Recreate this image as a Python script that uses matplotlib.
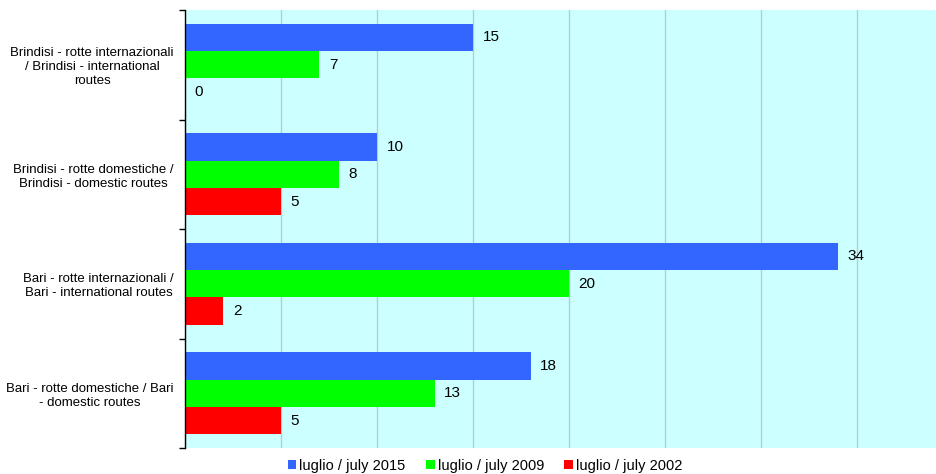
"""Rotte aeroportuali Bari / Brindisi: confronto luglio 2002, 2009, 2015"""
import matplotlib
matplotlib.use("Agg")
import matplotlib.pyplot as plt
import numpy as np

plt.rcParams["font.family"] = ["Liberation Sans", "DejaVu Sans"]

categories = [
    "Brindisi - rotte internazionali\n/ Brindisi - international\nroutes",
    "Brindisi - rotte domestiche /\nBrindisi - domestic routes",
    "Bari - rotte internazionali /\nBari - international routes",
    "Bari - rotte domestiche / Bari\n- domestic routes",
]
series_names = ["luglio / july 2015", "luglio / july 2009", "luglio / july 2002"]
july_2015 = [15, 10, 34, 18]
july_2009 = [7, 8, 20, 13]
july_2002 = [0, 5, 2, 5]
colors = ["#3366FF", "#00FF00", "#FF0000"]

fig = plt.figure(figsize=(9.36, 4.74), dpi=100)
# plot area runs past the right edge, as in the original
ax = fig.add_axes([185 / 936, 26 / 474, 768 / 936, 438 / 474])
ax.set_facecolor("#CCFFFF")

y = np.arange(len(categories))
h = 0.25
for i, (vals, col, name) in enumerate(zip([july_2015, july_2009, july_2002], colors, series_names)):
    pos = y - 0.5 + 0.125 + h * i + h / 2
    ax.barh(pos, vals, height=h, color=col, label=name, zorder=2)
    for p, v in zip(pos, vals):
        ax.text(v + 0.5, p, str(v), va="center", ha="left", fontsize=11, zorder=3)

ax.set_xlim(0, 40)
ax.set_ylim(len(categories) - 0.5, -0.5)
ax.set_xticks(np.arange(0, 41, 5))
ax.xaxis.grid(True, color="#B8CCCC", linewidth=1, zorder=1)
ax.tick_params(axis="x", length=0, labelbottom=False)

ax.set_yticks(np.arange(-0.5, len(categories), 1))
ax.set_yticklabels([])
ax.set_yticks(y, minor=True)
ax.set_yticklabels(categories, minor=True, fontsize=9.5, multialignment="center")
ax.tick_params(axis="y", which="major", length=4, direction="out", width=1)
ax.tick_params(axis="y", which="minor", length=0, pad=8)

for s in ["top", "right", "bottom"]:
    ax.spines[s].set_visible(False)
ax.spines["left"].set_linewidth(1)

fig.legend(loc="lower center", bbox_to_anchor=(485 / 936, -0.025), ncol=3, frameon=False,
           fontsize=10.5, handlelength=0.6, handleheight=0.6, handletextpad=0.2, columnspacing=1.4)

fig.savefig("out.png", dpi=100)
